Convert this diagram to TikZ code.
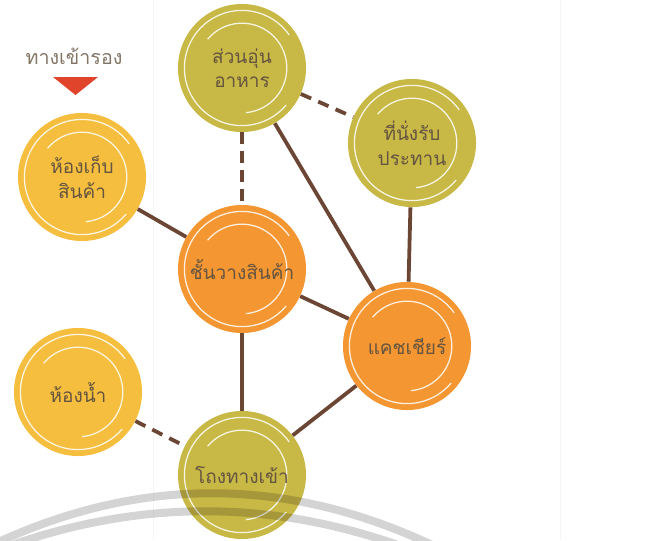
\documentclass[tikz,border=0pt]{standalone}
\usepackage{fontspec}
\newfontfamily\thaifont[Script=Thai]{Loma}

\definecolor{plateolive}{RGB}{200,184,70}
\definecolor{plateyellow}{RGB}{245,190,62}
\definecolor{plateorange}{RGB}{244,150,50}
\definecolor{linkbrown}{RGB}{108,70,52}
\definecolor{labeltext}{RGB}{100,84,64}
\definecolor{markred}{RGB}{224,68,42}

\tikzstyle{plate}=[circle, minimum size=3.2cm, inner sep=0pt, align=center,
  text=labeltext, font=\thaifont\fontsize{13.5}{17.5}\selectfont,
  path picture={
    \draw[white, line width=0.9pt, opacity=.85] (path picture bounding box.center)
      ++(35:1.44cm) arc[start angle=35, end angle=320, radius=1.44cm];
    \draw[white, line width=0.9pt, opacity=.85] (path picture bounding box.center)
      ++(140:1.12cm) arc[start angle=140, end angle=-85, radius=1.12cm];
  }]
\tikzstyle{olivenode}=[plate, fill=plateolive]
\tikzstyle{yellownode}=[plate, fill=plateyellow]
\tikzstyle{orangenode}=[plate, fill=plateorange]
\tikzstyle{linkline}=[linkbrown, line width=2.7pt]
\tikzstyle{dashline}=[linkline, dash pattern=on 8pt off 5.5pt]
\tikzstyle{band}=[black, opacity=.17, line width=5.7pt]

\begin{document}
\begin{tikzpicture}[x=0.025cm, y=-0.025cm]
  \useasboundingbox (0,0) rectangle (669,540);
  \draw[gray, opacity=.07, line width=.5pt] (153,0) -- (153,540);
  \draw[gray, opacity=.07, line width=.5pt] (560,0) -- (560,540);

  \node[text=labeltext!80, font=\thaifont\fontsize{14}{17}\selectfont] (Side) at (74,56) {ทางเข้ารอง};
  \fill[markred] (53,77) -- (98,77) -- (75.5,95) -- cycle;

  \node[yellownode] (R1) at (82,177) {ห้องเก็บ\\สินค้า};
  \node[olivenode] (R2) at (242,68) {ส่วนอุ่น\\อาหาร};
  \node[olivenode] (R3) at (412,143) {ที่นั่งรับ\\ประทาน};
  \node[orangenode] (R4) at (242,269) {ชั้นวางสินค้า};
  \node[orangenode] (R5) at (407,346) {แคชเชียร์};
  \node[yellownode] (R6) at (78,392) {ห้องน้ำ};
  \node[olivenode] (R7) at (242,475) {โถงทางเข้า};

  \draw[linkline] (R1) -- (R4);
  \draw[linkline] (R2) -- (R5);
  \draw[linkline] (R3) -- (R5);
  \draw[linkline] (R4) -- (R5);
  \draw[linkline] (R4) -- (R7);
  \draw[linkline] (R5) -- (R7);
  \draw[dashline] (R2) -- (R4);
  \draw[dashline] (R2) -- (R3);
  \draw[dashline] (R6) -- (R7);

  \begin{scope}
    \clip (0,0) rectangle (669,540);
    \draw[band] (-38,560) .. controls (129,471) and (295,471) .. (462,560);
    \draw[band] (-27,560) .. controls (128,495) and (282,495) .. (437,560);
  \end{scope}
\end{tikzpicture}
\end{document}
